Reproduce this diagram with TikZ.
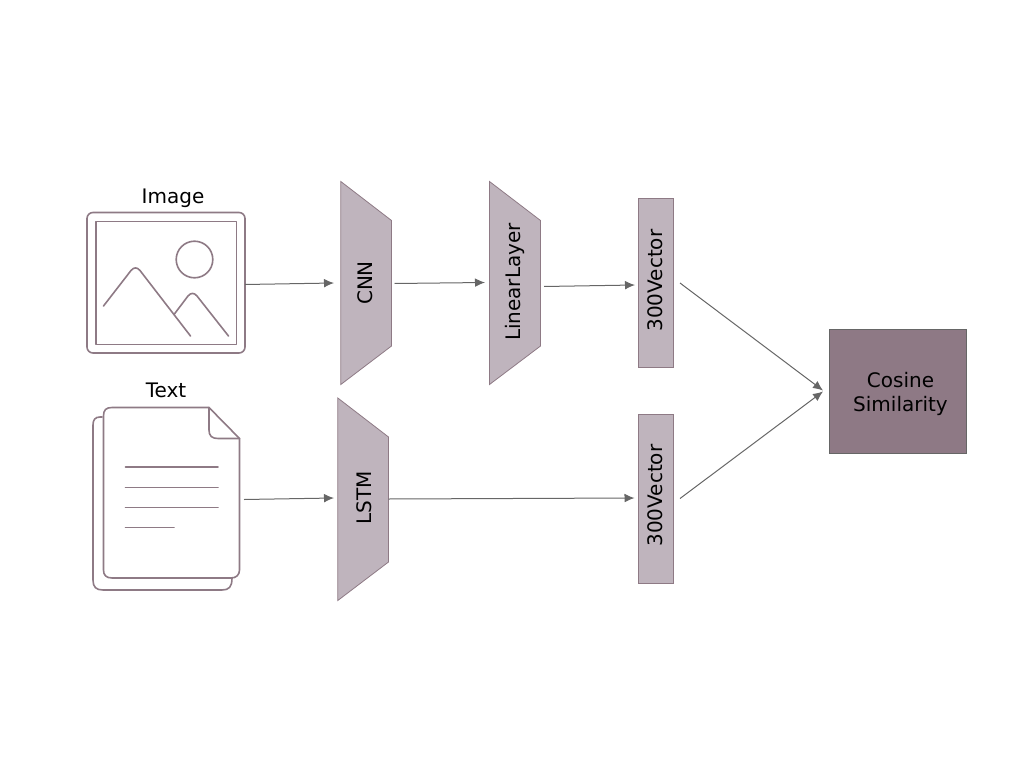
\documentclass[tikz,border=0pt]{standalone}
\usepackage{fontspec}
\setmainfont{DejaVu Sans}
\usetikzlibrary{arrows.meta}
\definecolor{lightfill}{HTML}{BFB4BD}
\definecolor{darkfill}{HTML}{8E7985}
\definecolor{iconline}{HTML}{8E7A85}
\definecolor{arrowgray}{HTML}{666666}
\tikzset{
  px/.style={x=0.75pt,y=-0.75pt},
  blockshape/.style={fill=lightfill,draw=iconline,line width=0.6pt},
  iconstroke/.style={draw=iconline,line width=1.2pt,line cap=round,line join=round,fill=none},
  flow/.style={draw=arrowgray,line width=0.75pt,-{Latex[length=7.5pt,width=6.5pt]}},
  blocklabel/.style={font=\fontsize{15pt}{18pt}\selectfont,rotate=90,inner sep=0pt},
  toplabel/.style={font=\fontsize{15pt}{18pt}\selectfont,inner sep=0pt,align=center}
}
\begin{document}
\begin{tikzpicture}[px]
\useasboundingbox (0,0) rectangle (1024,774);
% Image icon
\draw[iconstroke,rounded corners=4.5pt] (87,212.5) rectangle (245,353);
\draw[iconstroke] (96,221.5) rectangle (236.5,344.5);
\draw[iconstroke] (194.5,259.5) circle[radius=18.3];
\draw[iconstroke] (103.5,306) -- (131,270.5) .. controls (134,267) and (137,267) .. (140,270.5) -- (190.5,336);
\draw[iconstroke] (174,314.5) -- (188,296) .. controls (191,292.5) and (194,292.5) .. (197,296) -- (228.5,336);
% Text icon
\draw[iconstroke] (102,417) -- (100,417) .. controls (95,417) and (93,420) .. (93,425) -- (93,580) .. controls (93,587) and (96,590) .. (103,590) -- (222,590) .. controls (229,590) and (232,587) .. (232,578);
\draw[iconstroke,fill=white] (112,407.5) -- (209,407.5) -- (239.5,438.5) -- (239.5,570) .. controls (239.5,575) and (236,578) .. (231,578) -- (112,578) .. controls (106,578) and (103.5,575) .. (103.5,570) -- (103.5,416) .. controls (103.5,410) and (106,407.5) .. (112,407.5) -- cycle;
\draw[iconstroke] (209,407.5) -- (209,430) .. controls (209,436) and (212,438.5) .. (218,438.5) -- (239.5,438.5);
\draw[iconstroke] (125.5,467.2) -- (218,467.2);
\draw[iconstroke] (125.5,487.5) -- (218,487.5);
\draw[iconstroke] (125.5,507.5) -- (218,507.5);
\draw[iconstroke] (125.5,527.5) -- (174,527.5);
% Labels
\node[toplabel] (imglabel) at (173,198.5) {Image};
\node[toplabel] (txtlabel) at (166,390) {Text};
% Blocks
\draw[blockshape] (340.8,181.5) -- (391.5,220.5) -- (391.5,346) -- (340.8,384.5) -- cycle;
\node[blocklabel] (cnn) at (365.5,283) {CNN};
\draw[blockshape] (489.5,181.5) -- (540.5,220.5) -- (540.5,346) -- (489.5,384.5) -- cycle;
\node[blocklabel] (linear) at (515,282) {LinearLayer};
\draw[blockshape] (337.8,398) -- (388.5,437) -- (388.5,562) -- (337.8,600.5) -- cycle;
\node[blocklabel] (lstm) at (364,498) {LSTM};
\node[draw=iconline,fill=lightfill,line width=0.6pt,minimum width=26.25pt,minimum height=126.75pt,inner sep=0pt] (veca) at (655.5,283) {};
\node[blocklabel] (vecalabel) at (655.5,280.5) {300Vector};
\node[draw=iconline,fill=lightfill,line width=0.6pt,minimum width=26.25pt,minimum height=126.75pt,inner sep=0pt] (vecb) at (655.5,499) {};
\node[blocklabel] (vecblabel) at (655.5,495.5) {300Vector};
\node[draw=arrowgray,fill=darkfill,line width=0.6pt,minimum width=102.5pt,minimum height=92.5pt,inner sep=0pt] (cos) at (897.8,391.5) {};
\node[toplabel] (coslabel) at (900.5,393.5) {Cosine\\[0pt]Similarity};
% Connector ends
\coordinate (a0) at (245,284.5);
\coordinate (a1) at (334,283);
\coordinate (b0) at (394.5,283.5);
\coordinate (b1) at (485,282.5);
\coordinate (c0) at (544,286.5);
\coordinate (c1) at (635,285);
\coordinate (d0) at (244,499.5);
\coordinate (d1) at (334,498);
\coordinate (e0) at (388.5,499);
\coordinate (e1) at (634.5,498);
\coordinate (f0) at (680,283);
\coordinate (f1) at (823,390.5);
\coordinate (g0) at (680,498.5);
\coordinate (g1) at (823,391.5);
\draw[flow] (a0) -- (a1);
\draw[flow] (b0) -- (b1);
\draw[flow] (c0) -- (c1);
\draw[flow] (d0) -- (d1);
\draw[flow] (e0) -- (e1);
\draw[flow] (f0) -- (f1);
\draw[flow] (g0) -- (g1);
\end{tikzpicture}
\end{document}
